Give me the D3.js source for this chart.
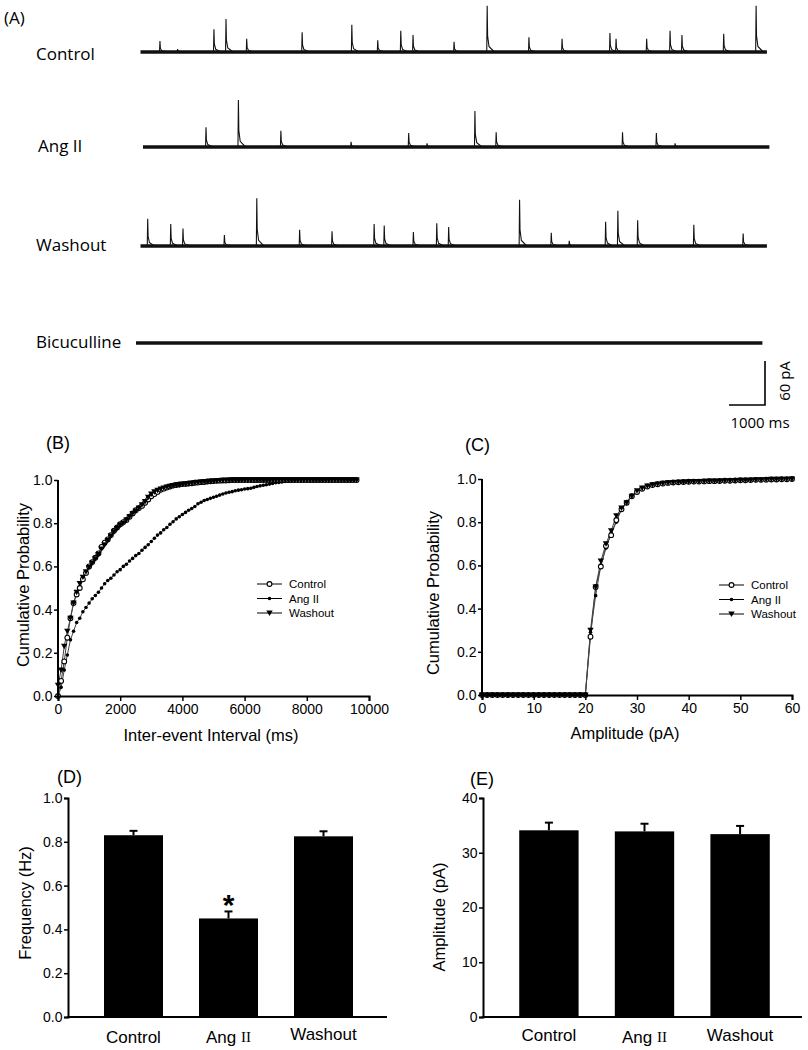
<!DOCTYPE html>
<html><head><meta charset="utf-8">
<script src="https://cdn.jsdelivr.net/npm/d3@7"></script>
<style>
body{margin:0;background:#fff}
svg{display:block}
</style>
</head><body>
<svg id="fig" width="808" height="1050"></svg>
<script>
// ---------------- DATA ----------------
const traceNames = ["Control", "Ang II", "Washout", "Bicuculline"];
const traceDurationMs = 17400;
const controlSpikeTimes = [540,1030,2040,2375,2950,4490,5870,6590,7230,7570,8710,9630,10790,11710,13040,13210,14060,14710,15040,16200,17100];
const controlSpikeAmps  = [15,4,31,45,18,27,37,16,29,23,14,63,20,18,26,18,18,29,23,25,63];
const angSpikeTimes = [1750,2650,3830,5780,7380,7890,9220,9810,13320,14260,14780];
const angSpikeAmps  = [27,64,22,7,19,5,49,20,20,19,5];
const washSpikeTimes = [200,840,1180,2330,3230,4420,5320,6490,6770,7580,8230,8560,10530,11410,11910,12920,13260,13810,15370,16740];
const washSpikeAmps  = [37,30,24,15,65,22,20,30,28,19,31,26,63,18,7,33,48,35,29,17];
const bicuSpikeTimes = [];
const bicuSpikeAmps  = [];
const scaleBarMs = 1000;
const scaleBarPA = 60;

const seriesNames = ["Control", "Ang II", "Washout"];

const intervalBins = [0,100,200,300,400,500,600,700,800,900,1000,1100,1200,1300,1400,1500,1600,1700,1800,1900,2000,2100,2200,2300,2400,2500,2600,2700,2800,2900,3000,3100,3200,3300,3400,3500,3600,3700,3800,3900,4000,4100,4200,4300,4400,4500,4600,4700,4800,4900,5000,5100,5200,5300,5400,5500,5600,5700,5800,5900,6000,6100,6200,6300,6400,6500,6600,6700,6800,6900,7000,7100,7200,7300,7400,7500,7600,7700,7800,7900,8000,8100,8200,8300,8400,8500,8600,8700,8800,8900,9000,9100,9200,9300,9400,9500,9600];
const intervalControl = [0.00,0.07,0.16,0.27,0.36,0.43,0.47,0.50,0.54,0.57,
 0.60,0.62,0.64,0.66,0.69,0.71,0.725,0.745,0.765,0.78,
 0.795,0.805,0.815,0.83,0.845,0.86,0.87,0.88,0.895,0.91,
 0.925,0.935,0.945,0.955,0.96,0.965,0.97,0.974,0.977,0.979,
 0.981,0.982,0.984,0.985,0.987,0.988,0.99,0.991,0.993,0.994,
 0.995,0.996,0.997,0.998,0.998,0.999,1,1,1,1,
 1,1,1,1,1,1,1,1,1,1, 1,1,1,1,1,1,1,1,1,1, 1,1,1,1,1,1,1,1,1,1, 1,1,1,1,1,1,1];
const intervalAngII = [0,0.04,0.12,0.19,0.26,0.30,0.34,0.36,0.39,0.41,
 0.43,0.45,0.465,0.48,0.50,0.52,0.535,0.545,0.56,0.575,
 0.585,0.60,0.61,0.625,0.637,0.65,0.66,0.675,0.688,0.70,
 0.715,0.73,0.745,0.755,0.77,0.78,0.795,0.807,0.82,0.83,
 0.84,0.85,0.86,0.868,0.877,0.89,0.897,0.905,0.91,0.915,
 0.92,0.925,0.93,0.935,0.94,0.943,0.946,0.95,0.953,0.955,
 0.958,0.96,0.962,0.966,0.97,0.973,0.976,0.978,0.981,0.984,
 0.987,0.989,0.991,0.993,0.995,0.996,0.997,0.998,0.999,1,
 1,1,1,1,1,1,1,1,1,1, 1,1,1,1,1,1,1];
const intervalWashout = [0.05,0.12,0.23,0.30,0.36,0.43,0.48,0.52,0.55,0.575,
 0.595,0.615,0.635,0.655,0.68,0.70,0.72,0.74,0.76,0.775,
 0.79,0.80,0.815,0.83,0.845,0.855,0.87,0.885,0.90,0.92,
 0.935,0.945,0.952,0.958,0.963,0.967,0.971,0.974,0.976,0.978,
 0.98,0.981,0.983,0.985,0.987,0.989,0.99,0.992,0.993,0.994,
 0.995,0.996,0.997,0.998,0.999,0.999,1,1,1,1,
 1,1,1,1,1,1,1,1,1,1, 1,1,1,1,1,1,1,1,1,1, 1,1,1,1,1,1,1,1,1,1, 1,1,1,1,1,1,1];

const amplitudeBins = [0,1,2,3,4,5,6,7,8,9,10,11,12,13,14,15,16,17,18,19,20,21,22,23,24,25,26,27,28,29,30,31,32,33,34,35,36,37,38,39,40,41,42,43,44,45,46,47,48,49,50,51,52,53,54,55,56,57,58,59,60];
const ampControl = [0,0,0,0,0,0,0,0,0,0,0,0,0,0,0,0,0,0,0,0,0,
 0.27,0.50,0.595,0.69,0.74,0.81,0.86,0.89,0.92,0.94,
 0.955,0.965,0.972,0.976,0.979,0.982,0.984,0.985,0.986,0.987,
 0.988,0.988,0.989,0.99,0.99,0.991,0.992,0.992,0.993,0.994,
 0.994,0.995,0.996,0.996,0.997,0.998,0.998,0.999,0.999,1.0];
const ampAngII = [0,0,0,0,0,0,0,0,0,0,0,0,0,0,0,0,0,0,0,0,0,
 0.29,0.46,0.60,0.68,0.75,0.80,0.86,0.895,0.925,0.94,
 0.955,0.965,0.971,0.976,0.979,0.982,0.984,0.985,0.986,0.987,
 0.988,0.988,0.989,0.99,0.99,0.991,0.992,0.992,0.993,0.994,
 0.994,0.995,0.996,0.996,0.997,0.998,0.998,0.999,0.999,1.0];
const ampWashout = [0,0,0,0,0,0,0,0,0,0,0,0,0,0,0,0,0,0,0,0,0,
 0.30,0.50,0.62,0.70,0.76,0.83,0.865,0.89,0.92,0.945,
 0.958,0.967,0.973,0.977,0.98,0.982,0.984,0.985,0.986,0.987,
 0.988,0.988,0.989,0.99,0.99,0.991,0.992,0.992,0.993,0.994,
 0.994,0.995,0.996,0.996,0.997,0.998,0.998,0.999,0.999,1.0];

const intervalTicks = [0,2000,4000,6000,8000,10000];
const amplitudeTicks = [0,10,20,30,40,50,60];
const probTicks = [0,0.2,0.4,0.6,0.8,1.0];

const barCategories = ["Control", "Ang II", "Washout"];
const freqMeans = [0.83, 0.45, 0.825];
const freqSEM   = [0.02, 0.032, 0.023];
const freqTicks = [0,0.2,0.4,0.6,0.8,1.0];
const ampMeans = [34.1, 33.9, 33.4];
const ampSEM   = [1.4, 1.4, 1.5];
const ampTicks = [0,10,20,30,40];

// ---------------- DRAWING ----------------
const svg = d3.select("#fig");
svg.append("rect").attr("width",808).attr("height",1050).attr("fill","#fff");
const SANS = "'Liberation Sans', Arial, sans-serif";
const MYRIAD = "'Open Sans', sans-serif";

// ---- Panel A: traces ----
const traces = [
  {name: traceNames[0], x0: 140.5, y0: 52,  lx: 36, ly: 53,    times: controlSpikeTimes, amps: controlSpikeAmps},
  {name: traceNames[1], x0: 143,   y0: 147, lx: 38, ly: 145,   times: angSpikeTimes, amps: angSpikeAmps},
  {name: traceNames[2], x0: 140.5, y0: 246, lx: 36, ly: 244,   times: washSpikeTimes, amps: washSpikeAmps},
  {name: traceNames[3], x0: 136,   y0: 343, lx: 36, ly: 341.5, times: bicuSpikeTimes, amps: bicuSpikeAmps}
];
const pxPerMs = 0.036, pxPerPA = 44/60;
const gA = svg.append("g");
gA.append("text").attr("x",4).attr("y",17).attr("dominant-baseline","central")
  .style("font-family",MYRIAD).style("font-size","17px").text("(A)");

traces.forEach(tr => {
  const ts = d3.scaleLinear().domain([0, traceDurationMs]).range([tr.x0, tr.x0 + traceDurationMs*pxPerMs]);
  const as = d3.scaleLinear().domain([0, 100]).range([tr.y0, tr.y0 - 100*pxPerPA]);
  gA.append("text").attr("x",tr.lx).attr("y",tr.ly).attr("dominant-baseline","central")
    .style("font-family",MYRIAD).style("font-size","17px").text(tr.name);
  gA.append("line").attr("x1",ts(0)).attr("x2",ts(traceDurationMs)).attr("y1",as(0)).attr("y2",as(0))
    .attr("stroke","#111").attr("stroke-width",3.6);
  const line = d3.line().x(d=>ts(d[0])).y(d=>as(d[1]));
  tr.times.forEach((t,i) => {
    const a = tr.amps[i];
    const pts = [[t-12,0],[t,a],[t+12,a*0.35],[t+50,a*0.12],[t+200,0]];
    gA.append("path").attr("d",line(pts)).attr("fill","none").attr("stroke","#111").attr("stroke-width",1.1);
  });
});
// scale bar
{
  const cornerX = 765, cornerY = 405;
  const wLen = scaleBarMs*pxPerMs, hLen = scaleBarPA*pxPerPA;
  gA.append("path").attr("d",`M${cornerX-wLen},${cornerY}H${cornerX}V${cornerY-hLen}`)
    .attr("fill","none").attr("stroke","#000").attr("stroke-width",1.6);
  gA.append("text").attr("x",760).attr("y",421.5).attr("text-anchor","middle").attr("dominant-baseline","central")
    .style("font-family",MYRIAD).style("font-size","15px").text("1000 ms");
  gA.append("text").attr("transform","translate(784,381) rotate(-90)").attr("text-anchor","middle").attr("dominant-baseline","central")
    .style("font-family",MYRIAD).style("font-size","15px").text("60 pA");
}

// ---- helpers ----
function styleAxis(g){
  g.select(".domain").attr("stroke","#000").attr("stroke-width",2);
  g.selectAll(".tick line").attr("stroke","#000").attr("stroke-width",1.5);
  g.selectAll(".tick text").style("font-family",SANS).style("font-size","14px").attr("fill","#000");
}
function marker(g, type, x, y, size){
  if(type===0){
    g.append("circle").attr("cx",x).attr("cy",y).attr("r",2.4*size).attr("fill","#fff").attr("stroke","#000").attr("stroke-width",1.1);
  } else if(type===1){
    g.append("circle").attr("cx",x).attr("cy",y).attr("r",1.8*size).attr("fill","#000");
  } else {
    const s = 3.2*size;
    g.append("path").attr("d",`M${x-s},${y-s*0.8}L${x+s},${y-s*0.8}L${x},${y+s*0.9}Z`).attr("fill","#000");
  }
}
function cumPanel(opts){
  const g = svg.append("g");
  const x = d3.scaleLinear().domain(opts.xDomain).range(opts.xRange);
  const y = d3.scaleLinear().domain([0,1]).range(opts.yRange);
  const series = [opts.s0, opts.s1, opts.s2];
  const line = d3.line().x((d,i)=>x(opts.bins[i])).y(d=>y(d));
  series.forEach(s=>{
    g.append("path").attr("d",line(s)).attr("fill","none").attr("stroke","#444").attr("stroke-width",1);
  });
  [1,0,2].forEach(k=>{
    series[k].forEach((v,i)=> marker(g,k,x(opts.bins[i]),y(v),1));
  });
  const gx = g.append("g").attr("transform",`translate(0,${opts.yRange[0]})`)
    .call(d3.axisBottom(x).tickValues(opts.xTicks).tickSize(5).tickPadding(3).tickFormat(d3.format("d")));
  styleAxis(gx);
  const gy = g.append("g").attr("transform",`translate(${opts.xRange[0]},0)`)
    .call(d3.axisLeft(y).tickValues(probTicks).tickSize(4).tickPadding(1.5).tickFormat(d3.format(".1f")));
  styleAxis(gy);
  gy.select(".domain").attr("d",`M-0,${opts.yRange[0]+3}V${opts.yRange[1]}`);
  g.append("text").attr("x",opts.xTitle[0]).attr("y",opts.xTitle[1]).attr("text-anchor","middle").attr("dominant-baseline","central")
    .style("font-family",SANS).style("font-size","16.5px").text(opts.xLabel);
  g.append("text").attr("transform",`translate(${opts.yTitle[0]},${opts.yTitle[1]}) rotate(-90)`).attr("text-anchor","middle").attr("dominant-baseline","central")
    .style("font-family",SANS).style("font-size","16.5px").text("Cumulative Probability");
  g.append("text").attr("x",opts.letter[0]).attr("y",opts.letter[1]).attr("dominant-baseline","central")
    .style("font-family",SANS).style("font-size","18px").text(opts.letterText);
  seriesNames.forEach((nm,k)=>{
    const ly = opts.legend[1] + k*14.5;
    g.append("line").attr("x1",opts.legend[0]).attr("x2",opts.legend[0]+25).attr("y1",ly).attr("y2",ly).attr("stroke","#000").attr("stroke-width",1);
    marker(g,k,opts.legend[0]+12.5,ly,1);
    g.append("text").attr("x",opts.legend[0]+32).attr("y",ly).attr("dominant-baseline","central")
      .style("font-family",SANS).style("font-size","11.5px").text(nm);
  });
}
cumPanel({xDomain:[0,10000], xRange:[58,369], yRange:[696,480], bins:intervalBins,
  s0:intervalControl, s1:intervalAngII, s2:intervalWashout, xTicks:intervalTicks,
  xLabel:"Inter-event Interval (ms)", xTitle:[211,735], yTitle:[23,585], letter:[46,443], letterText:"(B)",
  legend:[257,584]});
cumPanel({xDomain:[0,60], xRange:[482,792], yRange:[695,479], bins:amplitudeBins,
  s0:ampControl, s1:ampAngII, s2:ampWashout, xTicks:amplitudeTicks,
  xLabel:"Amplitude (pA)", xTitle:[625,733], yTitle:[433,593], letter:[465,445], letterText:"(C)",
  legend:[719,585]});

// ---- Bar panels ----
function barPanel(opts){
  const g = svg.append("g");
  const x = d3.scaleBand().domain(barCategories).range(opts.xRange).paddingInner(0.379).paddingOuter(0.379);
  const y = d3.scaleLinear().domain(opts.yDomain).range([1017,798]);
  g.selectAll("rect.bar").data(opts.means).enter().append("rect")
    .attr("x",(d,i)=>x(barCategories[i])).attr("width",x.bandwidth())
    .attr("y",d=>y(d)).attr("height",d=>y(0)-y(d)).attr("fill","#000");
  opts.means.forEach((m,i)=>{
    const cx = x(barCategories[i]) + x.bandwidth()/2;
    g.append("line").attr("x1",cx).attr("x2",cx).attr("y1",y(m)).attr("y2",y(m+opts.sem[i])).attr("stroke","#000").attr("stroke-width",2);
    g.append("line").attr("x1",cx-4).attr("x2",cx+4).attr("y1",y(m+opts.sem[i])).attr("y2",y(m+opts.sem[i])).attr("stroke","#000").attr("stroke-width",2);
    const t = g.append("text").attr("x",cx).attr("y",opts.catY[i]).attr("text-anchor","middle").attr("dominant-baseline","central")
      .style("font-family",SANS).style("font-size","17px");
    if(barCategories[i]==="Ang II"){
      t.append("tspan").text("Ang ");
      t.append("tspan").style("font-family","'Liberation Serif', 'Times New Roman', serif").style("font-size","15px").text("II");
    } else t.text(barCategories[i]);
  });
  const gy = g.append("g").attr("transform",`translate(${opts.xRange[0]},0)`)
    .call(d3.axisLeft(y).tickValues(opts.ticks).tickSize(4).tickPadding(1.5).tickFormat(opts.fmt));
  styleAxis(gy);
  g.append("line").attr("x1",opts.xRange[0]-1).attr("x2",opts.axisEnd).attr("y1",y(0)).attr("y2",y(0)).attr("stroke","#000").attr("stroke-width",2);
  g.append("text").attr("transform",`translate(${opts.yTitle[0]},${opts.yTitle[1]}) rotate(-90)`).attr("text-anchor","middle").attr("dominant-baseline","central")
    .style("font-family",SANS).style("font-size","16.5px").text(opts.yLabel);
  g.append("text").attr("x",opts.letter[0]).attr("y",opts.letter[1]).attr("dominant-baseline","central")
    .style("font-family",SANS).style("font-size","18px").text(opts.letterText);
  return {g,x,y};
}
const D = barPanel({xRange:[68,389], axisEnd:387, yDomain:[0,1], means:freqMeans, sem:freqSEM, ticks:freqTicks, fmt:d3.format(".1f"),
  yLabel:"Frequency (Hz)", yTitle:[25,903], letter:[57,777], letterText:"(D)", catY:[1037,1037,1034]});
{
  const cx = D.x("Ang II") + D.x.bandwidth()/2;
  D.g.append("text").attr("x",cx).attr("y",D.y(freqMeans[1]+freqSEM[1])+4).attr("text-anchor","middle")
    .style("font-family",SANS).style("font-size","30px").style("font-weight","bold").text("*");
}
barPanel({xRange:[483,806], axisEnd:802, yDomain:[0,40], means:ampMeans, sem:ampSEM, ticks:ampTicks, fmt:d3.format("d"),
  yLabel:"Amplitude (pA)", yTitle:[439,917], letter:[470,779], letterText:"(E)", catY:[1035,1037,1035]});
</script>
</body></html>
